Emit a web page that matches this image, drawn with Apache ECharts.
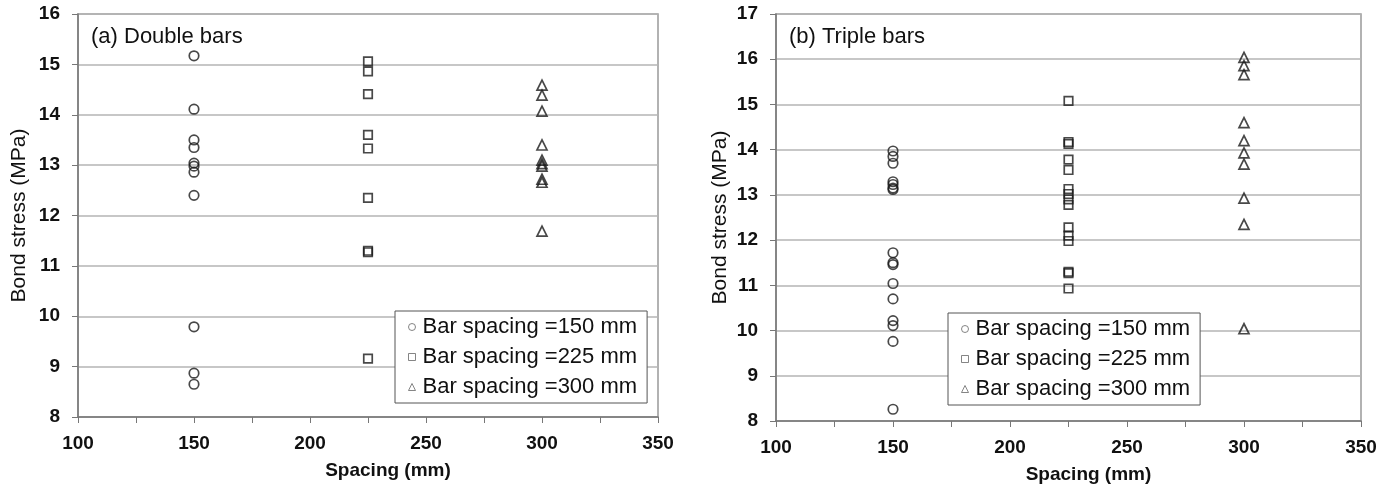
<!DOCTYPE html>
<html>
<head>
<meta charset="utf-8">
<script src="https://cdn.jsdelivr.net/npm/echarts@6/dist/echarts.min.js"></script>
<style>
  html, body { margin: 0; padding: 0; background: #fff; }
  #chart { width: 1393px; height: 490px; }
</style>
</head>
<body>
<div id="chart"></div>
<script>
// bar spacing groups (x positions)
const spacings = [150, 225, 300];
const legendNames = ['Bar spacing =150 mm', 'Bar spacing =225 mm', 'Bar spacing =300 mm'];
const xTicks = [100, 150, 200, 250, 300, 350];

// (a) double bars - bond stress, MPa
const doubleS150 = [15.17, 14.11, 13.5, 13.35, 13.04, 12.98, 12.86, 12.4, 9.79, 8.87, 8.65];
const doubleS225 = [15.06, 14.86, 14.41, 13.6, 13.33, 12.35, 11.3, 11.27, 9.16];
const doubleS300 = [14.59, 14.39, 14.07, 13.4, 13.1, 13.03, 12.98, 12.72, 12.66, 11.69];

// (b) triple bars - bond stress, MPa
const tripleS150 = [13.97, 13.85, 13.7, 13.29, 13.23, 13.15, 13.12, 11.72, 11.5, 11.46, 11.04, 10.7, 10.22, 10.11, 9.76, 8.26];
const tripleS225 = [15.08, 14.17, 14.13, 13.78, 13.55, 13.13, 13.02, 12.9, 12.78, 12.28, 12.1, 11.98, 11.3, 11.27, 10.93];
const tripleS300 = [16.04, 15.86, 15.66, 14.6, 14.2, 13.93, 13.68, 12.93, 12.35, 10.04];

const FONT = "'Liberation Sans', Arial, sans-serif";
const symbols = ['circle', 'rect', 'triangle'];
const sizes = [9.5, 8.5, 10];

const chart = echarts.init(document.getElementById('chart'));

function makeSeries(values, k, axisIdx) {
  return {
    name: legendNames[k],
    type: 'scatter',
    xAxisIndex: axisIdx,
    yAxisIndex: axisIdx,
    symbol: symbols[k],
    symbolSize: sizes[k],
    itemStyle: { color: 'rgba(255,255,255,0)', borderColor: '#1a1a1a', borderWidth: 1.7 },
    emphasis: { disabled: true },
    data: values.map(v => [spacings[k], v])
  };
}

function xAxis(idx) {
  return {
    type: 'value', gridIndex: idx, min: 100, max: 350, interval: 25,
    name: 'Spacing (mm)', nameLocation: 'middle', nameGap: 44,
    nameTextStyle: { fontFamily: FONT, fontSize: 19, fontWeight: 'bold', color: '#111', padding: [0, 0, 0, 40] },
    axisLine: { lineStyle: { color: '#777', width: 1.5 } },
    axisTick: { inside: false, length: 6, lineStyle: { color: '#777' } },
    axisLabel: {
      fontFamily: FONT, fontSize: 19, fontWeight: 'bold', color: '#111', margin: 17,
      formatter: v => (xTicks.indexOf(v) >= 0 ? String(v) : '')
    },
    splitLine: { show: false }
  };
}

function yAxis(idx, max) {
  return {
    type: 'value', gridIndex: idx, min: 8, max: max, interval: 1,
    name: 'Bond stress (MPa)', nameLocation: 'middle', nameGap: idx === 0 ? 48 : 45,
    nameTextStyle: { fontFamily: FONT, fontSize: 21, color: '#111' },
    axisLine: { show: true, lineStyle: { color: '#777', width: 1.5 } },
    axisTick: { show: true, inside: false, length: 6, lineStyle: { color: '#777' } },
    axisLabel: { fontFamily: FONT, fontSize: 19, fontWeight: 'bold', color: '#111', margin: 18 },
    splitLine: { show: true, lineStyle: { color: '#b4b4b4', width: 1.5 } }
  };
}

function legend(left, top) {
  return {
    orient: 'vertical', left: left, top: top,
    itemWidth: 7, itemHeight: 7, itemGap: 8,
    padding: [5, 10, 5, 13],
    borderColor: '#555', borderWidth: 1, backgroundColor: '#fff',
    selectedMode: false,
    textStyle: { fontFamily: FONT, fontSize: 22, color: '#111', padding: [0, 0, 0, 2] },
    data: legendNames.map((n, k) => ({
      name: n, icon: symbols[k],
      itemStyle: { color: '#fff', borderColor: '#666', borderWidth: 1 }
    }))
  };
}

const option = {
  animation: false,
  backgroundColor: '#fff',
  title: [
    { text: '(a) Double bars', left: 86, top: 21, textStyle: { fontFamily: FONT, fontSize: 22, fontWeight: 'normal', color: '#111' } },
    { text: '(b) Triple bars', left: 784, top: 21, textStyle: { fontFamily: FONT, fontSize: 22, fontWeight: 'normal', color: '#111' } }
  ],
  grid: [
    { left: 78, right: 735, top: 14, bottom: 73, show: true, borderColor: '#999', borderWidth: 1.5, backgroundColor: 'transparent' },
    { left: 776, right: 32, top: 14, bottom: 69, show: true, borderColor: '#999', borderWidth: 1.5, backgroundColor: 'transparent' }
  ],
  xAxis: [xAxis(0), xAxis(1)],
  yAxis: [yAxis(0, 16), yAxis(1, 17)],
  legend: [legend(395, 311), legend(948, 313)],
  series: [
    makeSeries(doubleS150, 0, 0),
    makeSeries(doubleS225, 1, 0),
    makeSeries(doubleS300, 2, 0),
    makeSeries(tripleS150, 0, 1),
    makeSeries(tripleS225, 1, 1),
    makeSeries(tripleS300, 2, 1)
  ]
};

chart.setOption(option);
</script>
</body>
</html>
